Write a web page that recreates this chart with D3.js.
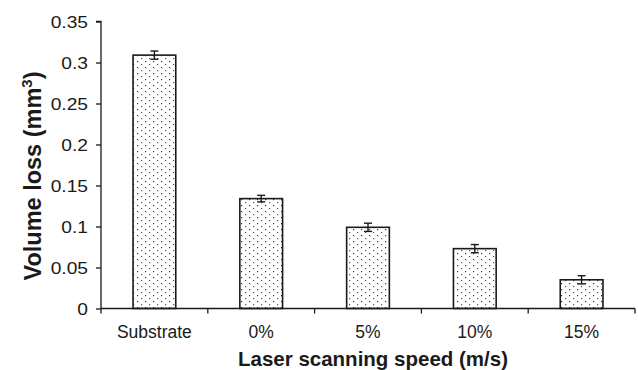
<!DOCTYPE html>
<html><head><meta charset="utf-8">
<script src="https://cdn.jsdelivr.net/npm/d3@7"></script>
<style>body{margin:0;background:#fff;} svg{display:block;font-family:"Liberation Sans",Arial,sans-serif;}</style>
</head><body>
<svg id="c" width="638" height="370"></svg>
<script>
const categories = ["Substrate", "0%", "5%", "10%", "15%"];
const values = [0.309, 0.134, 0.099, 0.073, 0.035];
const errors = [0.005, 0.004, 0.005, 0.005, 0.005];
const yTicks = [0, 0.05, 0.1, 0.15, 0.2, 0.25, 0.3, 0.35];
const yTickLabels = ["0", "0.05", "0.1", "0.15", "0.2", "0.25", "0.3", "0.35"];

(function () {
const svg = d3.select("#c");
const mLeft = 101, mRight = 635, mTop = 21.5, mBottom = 308.5;
const ink = "#1a1a1a";

const x = d3.scaleBand().domain(categories).range([mLeft, mRight]).paddingInner(0.6).paddingOuter(0.3);
const y = d3.scaleLinear().domain([0, 0.35]).range([mBottom, mTop]);

const defs = svg.append("defs");
const pat = defs.append("pattern").attr("id", "dots").attr("patternUnits", "userSpaceOnUse")
  .attr("width", 8).attr("height", 6);
pat.append("rect").attr("width", 8).attr("height", 6).attr("fill", "#fff");
pat.append("rect").attr("x", 1).attr("y", 1).attr("width", 1.2).attr("height", 1.2).attr("fill", "#333");
pat.append("rect").attr("x", 5).attr("y", 4).attr("width", 1.2).attr("height", 1.2).attr("fill", "#555");

svg.selectAll("rect.bar").data(values).enter().append("rect")
  .attr("class", "bar")
  .attr("x", (d, i) => x(categories[i]))
  .attr("width", x.bandwidth())
  .attr("y", d => y(d))
  .attr("height", d => y(0) - y(d))
  .attr("fill", "url(#dots)")
  .attr("stroke", ink).attr("stroke-width", 1.6);

const eg = svg.append("g").attr("stroke", ink).attr("stroke-width", 1.4);
values.forEach((v, i) => {
  const cx = x(categories[i]) + x.bandwidth() / 2;
  eg.append("line").attr("x1", cx).attr("x2", cx).attr("y1", y(v + errors[i])).attr("y2", y(v - errors[i]));
  eg.append("line").attr("x1", cx - 4).attr("x2", cx + 4).attr("y1", y(v + errors[i])).attr("y2", y(v + errors[i]));
  eg.append("line").attr("x1", cx - 4).attr("x2", cx + 4).attr("y1", y(v - errors[i])).attr("y2", y(v - errors[i]));
});

const yAxis = d3.axisLeft(y).tickValues(yTicks).tickFormat((d, i) => yTickLabels[i]).tickSize(5);
const gy = svg.append("g").attr("transform", `translate(${mLeft},0)`).call(yAxis);
gy.select(".domain").attr("stroke", ink).attr("stroke-width", 1.3).attr("d", `M-5,${mTop}H0V${mBottom}`);
gy.selectAll(".tick line").attr("stroke", ink).attr("stroke-width", 1.3);
gy.selectAll(".tick text").attr("font-size", 16).attr("fill", ink)
  .attr("font-family", "Liberation Sans, Arial, sans-serif")
  .attr("x", -13 / 1.2).attr("dy", "0.36em")
  .attr("transform", "scale(1.2,1)");

const xAxis = d3.axisBottom(x).tickSize(0);
const gx = svg.append("g").attr("transform", `translate(0,${mBottom})`).call(xAxis);
gx.select(".domain").attr("stroke", ink).attr("stroke-width", 1.3).attr("d", `M${mLeft},0H${mRight}`);
gx.selectAll(".tick text").attr("font-size", 17.5).attr("fill", ink)
  .attr("font-family", "Liberation Sans, Arial, sans-serif")
  .attr("y", 29).attr("dy", 0);
const bounds = d3.range(categories.length + 1).map(i => mLeft + i * (mRight - mLeft) / categories.length);
gx.selectAll("line.bt").data(bounds).enter().append("line").attr("class", "bt")
  .attr("x1", d => d).attr("x2", d => d).attr("y1", 0).attr("y2", 5)
  .attr("stroke", ink).attr("stroke-width", 1.3);

svg.append("text").attr("x", 373).attr("y", 366).attr("text-anchor", "middle")
  .attr("font-size", 20.5).attr("font-weight", "bold").attr("fill", ink)
  .text("Laser scanning speed (m/s)");
const yt = svg.append("text").attr("transform", "translate(41,176) rotate(-90)").attr("text-anchor", "middle")
  .attr("font-size", 23.5).attr("font-weight", "bold").attr("fill", ink);
yt.append("tspan").text("Volume loss (mm");
yt.append("tspan").attr("font-size", 15).attr("dy", -9).text("3");
yt.append("tspan").attr("dy", 9).text(")");
})();
</script>
</body></html>
